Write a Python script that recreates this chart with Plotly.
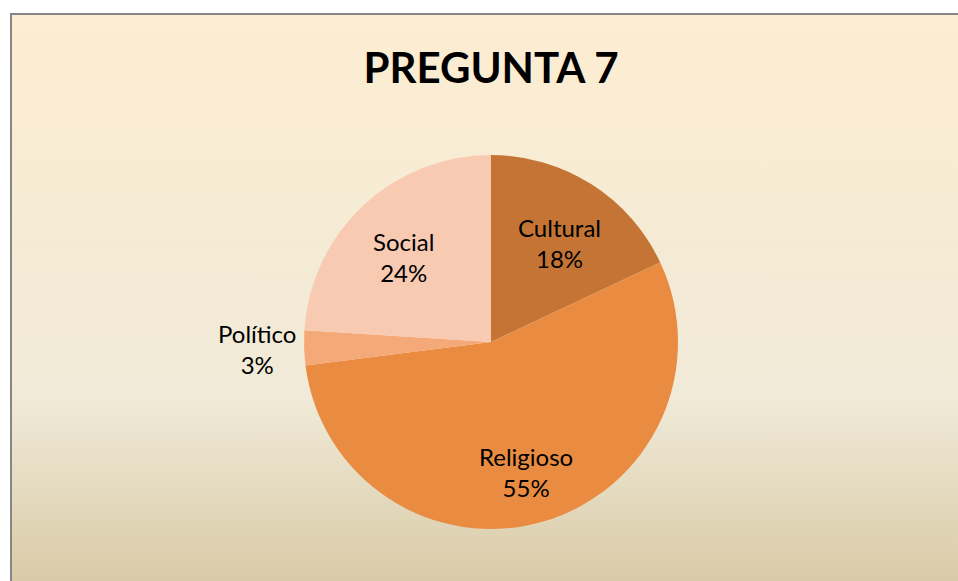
import math
import urllib.parse
import plotly.graph_objects as go

categories = ["Cultural", "Religioso", "Político", "Social"]
values = [18, 55, 3, 24]
colors = ["#C47535", "#E98C42", "#F5A878", "#F8CAB2"]
label_outside = [False, False, True, False]
title_text = "PREGUNTA 7"

W, H = 958, 581
cx, cy, r = 491, 342, 187

svg = (
    '<svg xmlns="http://www.w3.org/2000/svg" width="960" height="590" preserveAspectRatio="none">'
    '<defs><linearGradient id="g" x1="0" y1="0" x2="0" y2="1">'
    '<stop offset="0" stop-color="#FDEDD1"/>'
    '<stop offset="0.65" stop-color="#F0EAD8"/>'
    '<stop offset="1" stop-color="#D6C7A1"/>'
    '</linearGradient></defs>'
    '<rect width="960" height="590" fill="url(#g)"/></svg>'
)
bg_uri = "data:image/svg+xml;charset=utf-8," + urllib.parse.quote(svg)

fig = go.Figure()
fig.add_trace(go.Pie(
    labels=categories,
    values=values,
    sort=False,
    direction="clockwise",
    rotation=0,
    marker=dict(colors=colors, line=dict(width=0)),
    textinfo="none",
    domain=dict(x=[(cx - r) / W, (cx + r) / W], y=[1 - (cy + r) / H, 1 - (cy - r) / H]),
    showlegend=False,
    hoverinfo="label+percent",
))

# data labels placed at each slice's mid-angle, derived from the values
total = sum(values)
annotations = []
cum = 0
for lab, v, out in zip(categories, values, label_outside):
    mid = (cum + v / 2) / total * 2 * math.pi
    cum += v
    rr = r * (1.25 if out else 0.68)
    px = cx + rr * math.sin(mid)
    py = cy - rr * math.cos(mid) + (0 if out else 8)
    annotations.append(dict(
        x=px / W, y=1 - py / H, xref="paper", yref="paper",
        text=f"{lab}<br>{round(v / total * 100)}%", showarrow=False,
        xanchor="center", yanchor="middle", align="center",
        font=dict(family="Lato", size=24, color="#000000"),
    ))

fig.update_layout(
    width=W, height=H,
    margin=dict(l=0, r=0, t=0, b=0),
    paper_bgcolor="#FFFFFF",
    plot_bgcolor="rgba(0,0,0,0)",
    title=dict(text="<b>" + title_text + "</b>", x=cx / W, xanchor="center",
               y=1 - 68 / H, yanchor="middle",
               font=dict(family="Lato", size=42, color="#000000")),
    annotations=annotations,
    images=[dict(source=bg_uri, xref="paper", yref="paper",
                 x=10 / W, y=1 - 13 / H, sizex=(W + 10) / W, sizey=(H + 10) / H,
                 xanchor="left", yanchor="top", sizing="stretch", layer="below")],
    shapes=[dict(type="rect", xref="paper", yref="paper",
                 x0=11 / W, x1=(W + 20) / W, y0=-20 / H, y1=1 - 14 / H,
                 line=dict(color="#868686", width=2), fillcolor="rgba(0,0,0,0)")],
)

fig.write_html(
    "out.html",
    config={"displayModeBar": False},
    post_script="document.body.style.margin='0';document.body.style.overflow='hidden';",
)
